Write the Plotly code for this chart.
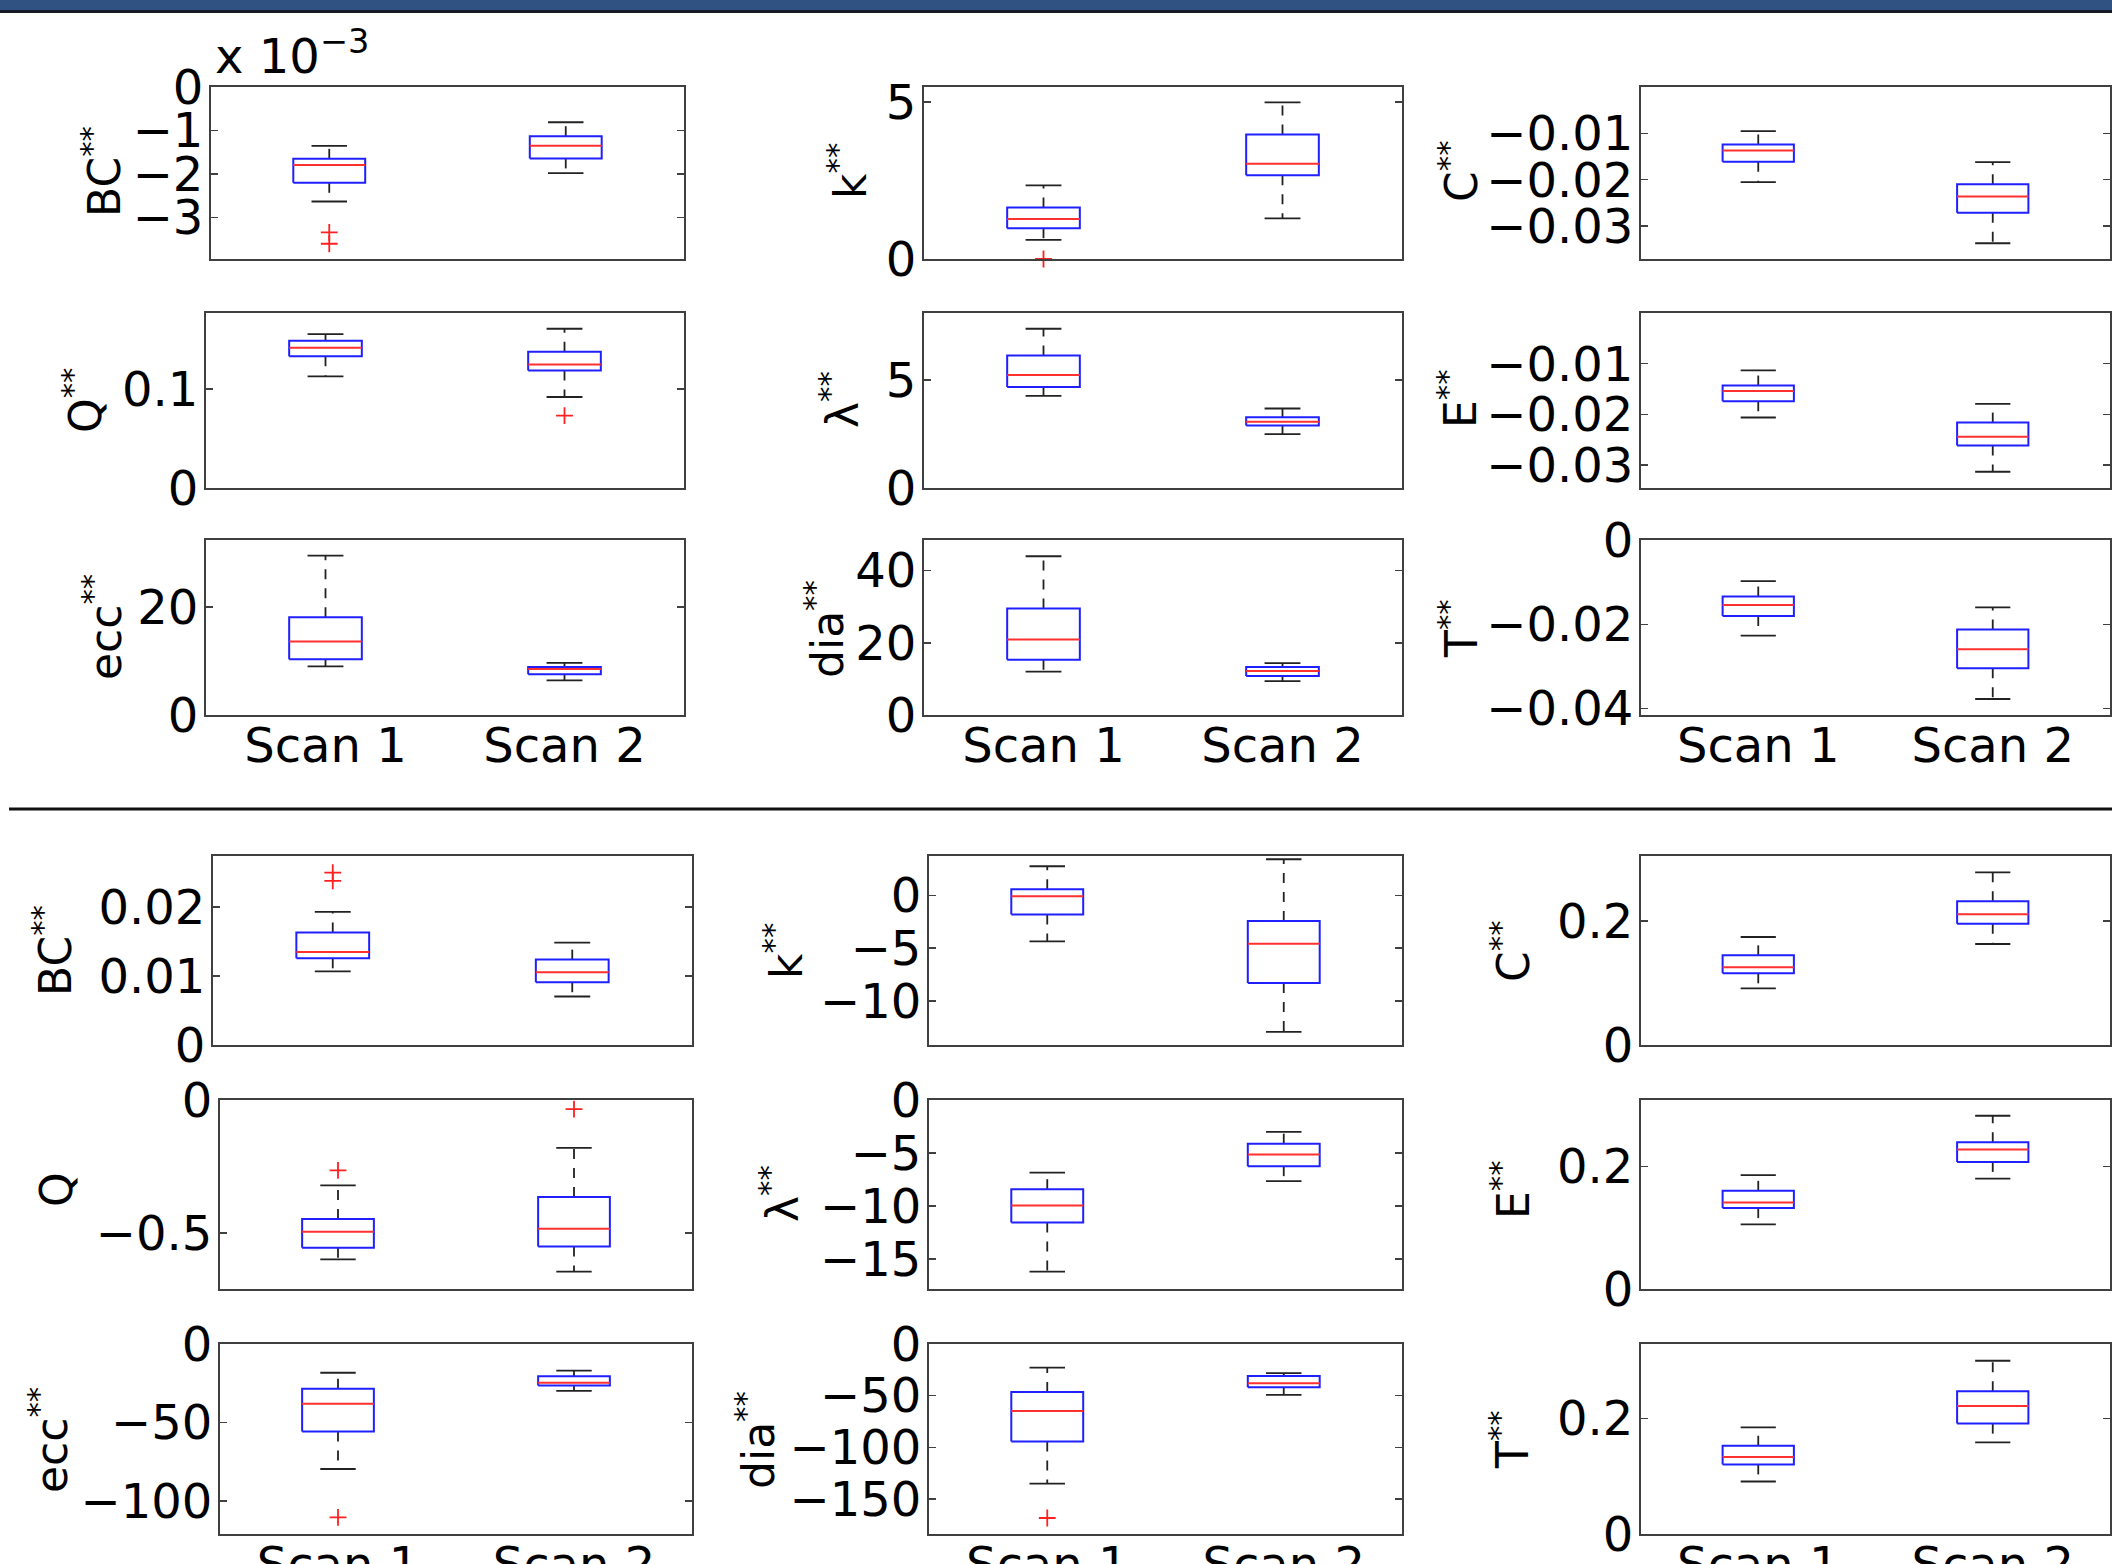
import plotly.graph_objects as go

W, H = 2112, 1564
SCANS = ["Scan 1", "Scan 2"]

# ---------------- DATA ----------------
# panel order in each section (row-major): BC, k, C, Q, lambda, E, ecc, dia, T
top_names = ["BC<sup>**</sup>", "k<sup>**</sup>", "C<sup>**</sup>",
             "Q<sup>**</sup>", "λ<sup>**</sup>", "E<sup>**</sup>",
             "ecc<sup>**</sup>", "dia<sup>**</sup>", "T<sup>**</sup>"]
bot_names = ["BC<sup>**</sup>", "k<sup>**</sup>", "C<sup>**</sup>",
             "Q", "λ<sup>**</sup>", "E<sup>**</sup>",
             "ecc<sup>**</sup>", "dia<sup>**</sup>", "T<sup>**</sup>"]

# five-number summaries, [Scan 1, Scan 2]
top_lower = [[-2.63e-3, -1.98e-3], [0.61, 1.29], [-0.0205, -0.0337],
             [0.1128, 0.0919], [4.26, 2.49], [-0.0206, -0.0313],
             [9.0, 6.4], [12.0, 9.4], [-0.0227, -0.0377]]
top_q1 = [[-2.20e-3, -1.64e-3], [0.98, 2.66], [-0.0161, -0.0271],
          [0.1331, 0.1186], [4.67, 2.89], [-0.0174, -0.0261],
          [10.3, 7.55], [15.3, 10.8], [-0.0180, -0.0304]]
top_median = [[-1.79e-3, -1.35e-3], [1.27, 3.03], [-0.0137, -0.0236],
              [0.1416, 0.1247], [5.23, 3.07], [-0.0154, -0.0244],
              [13.6, 8.5], [20.9, 12.2], [-0.0154, -0.0259]]
top_q3 = [[-1.65e-3, -1.13e-3], [1.64, 3.96], [-0.0124, -0.0210],
          [0.1486, 0.1375], [6.13, 3.28], [-0.0143, -0.0216],
          [18.1, 8.9], [29.5, 13.3], [-0.0134, -0.0212]]
top_upper = [[-1.35e-3, -0.81e-3], [2.34, 4.98], [-0.0095, -0.0162],
             [0.1554, 0.1608], [7.37, 3.68], [-0.0113, -0.0179],
             [29.5, 9.66], [44.0, 14.4], [-0.00976, -0.0160]]
top_outliers = [[[-3.34e-3, -3.60e-3], []], [[0.0], []], [[], []],
                [[], [0.073]], [[], []], [[], []],
                [[], []], [[], []], [[], []]]

bot_lower = [[0.01067, 0.00702], [-4.36, -12.93], [0.0914, 0.1629],
             [-0.599, -0.645], [-16.2, -7.65], [0.1054, 0.1804],
             [-79.6, -29.8], [-135.2, -49.3], [0.0910, 0.1588]]
bot_q1 = [[0.01255, 0.00909], [-1.82, -8.31], [0.1156, 0.1957],
          [-0.555, -0.550], [-11.55, -6.24], [0.1321, 0.2076],
          [-55.7, -26.4], [-94.5, -42.0], [0.1206, 0.1913]]
bot_median = [[0.01346, 0.01053], [-0.09, -4.58], [0.1253, 0.2108],
              [-0.495, -0.484], [-9.96, -5.13], [0.1413, 0.2277],
              [-38.1, -24.7], [-64.8, -37.9], [0.1333, 0.2220]]
bot_q3 = [[0.0163, 0.01236], [0.58, -2.44], [0.1446, 0.2317],
          [-0.4475, -0.364], [-8.41, -4.12], [0.1603, 0.2397],
          [-28.5, -20.6], [-46.6, -31.1], [0.1530, 0.2475]]
bot_upper = [[0.01928, 0.01481], [2.76, 3.42], [0.1742, 0.2785],
             [-0.321, -0.18], [-6.86, -3.01], [0.1859, 0.283],
             [-18.3, -17.0], [-22.8, -28.3], [0.1849, 0.3003]]
bot_outliers = [[[0.02495, 0.02375], []], [[], []], [[], []],
                [[-0.264], [-0.034]], [[], []], [[], []],
                [[-110.4], []], [[-168.5], []], [[], []]]

# y axis ranges and ticks
top_yrange = [[-3.95e-3, 0], [0, 5.47], [-0.0371, 0], [0, 0.1767], [0, 8.1],
              [-0.0345, 0], [0, 32.4], [0, 48.5], [-0.0415, 0]]
top_tickvals = [[-3e-3, -2e-3, -1e-3, 0], [0, 5], [-0.03, -0.02, -0.01],
                [0, 0.1], [0, 5], [-0.03, -0.02, -0.01],
                [0, 20], [0, 20, 40], [-0.04, -0.02, 0]]
top_ticktext = [["−3", "−2", "−1", "0"], ["0", "5"], ["−0.03", "−0.02", "−0.01"],
                ["0", "0.1"], ["0", "5"], ["−0.03", "−0.02", "−0.01"],
                ["0", "20"], ["0", "20", "40"], ["−0.04", "−0.02", "0"]]
bot_yrange = [[0, 0.02736], [-14.18, 3.73], [0, 0.3048], [-0.71, 0], [-17.83, 0],
              [0, 0.3087], [-121, 0], [-184, 0], [0, 0.3293]]
bot_tickvals = [[0, 0.01, 0.02], [-10, -5, 0], [0, 0.2], [-0.5, 0],
                [-15, -10, -5, 0], [0, 0.2], [-100, -50, 0],
                [-150, -100, -50, 0], [0, 0.2]]
bot_ticktext = [["0", "0.01", "0.02"], ["−10", "−5", "0"], ["0", "0.2"],
                ["−0.5", "0"], ["−15", "−10", "−5", "0"], ["0", "0.2"],
                ["−100", "−50", "0"], ["−150", "−100", "−50", "0"], ["0", "0.2"]]
exponent_label = "x 10<sup>−3</sup>"

# ---------------- LAYOUT GEOMETRY (pixels) ----------------
TOP_ROWS = [(87, 259), (313, 488), (540, 715)]
BOT_ROWS = [(856, 1045), (1100, 1289), (1344, 1534)]
TOP_COLS = [[(211, 684), (924, 1402), (1641, 2110)],
            [(206, 684), (924, 1402), (1641, 2110)],
            [(206, 684), (924, 1402), (1641, 2110)]]
BOT_COLS = [[(213, 692), (929, 1402), (1641, 2110)],
            [(220, 692), (929, 1402), (1641, 2110)],
            [(220, 692), (929, 1402), (1641, 2110)]]
TOP_TITLE_POS = [(101, 172), (847, 171), (1458, 171),
                 (82, 401), (840, 400), (1458, 399),
                 (102, 627), (824, 629), (1458, 629)]
BOT_TITLE_POS = [(52, 951), (783, 951), (1510, 951),
                 (56, 1190), (779, 1194), (1510, 1190),
                 (48, 1440), (755, 1440), (1509, 1440)]

FONT = "DejaVu Sans"
TICK_SIZE = 48
TITLE_SIZE = 44
FRAME = "#404040"
BOX_HW = 0.152
CAP_HW = 0.075


def px(x):
    return x / W


def py(y):
    return 1 - y / H


fig = go.Figure()
layout = dict(
    width=W, height=H, margin=dict(l=0, r=0, t=0, b=0, pad=0, autoexpand=False),
    paper_bgcolor="white", plot_bgcolor="white", showlegend=False,
    hovermode=False, font=dict(family=FONT, color="black", size=TICK_SIZE),
)
annotations = []

sections = [
    (TOP_ROWS, TOP_COLS, TOP_TITLE_POS, top_names, top_lower, top_q1, top_median,
     top_q3, top_upper, top_outliers, top_yrange, top_tickvals, top_ticktext),
    (BOT_ROWS, BOT_COLS, BOT_TITLE_POS, bot_names, bot_lower, bot_q1, bot_median,
     bot_q3, bot_upper, bot_outliers, bot_yrange, bot_tickvals, bot_ticktext),
]

n = 0
for (rows, cols, tpos, names, lo, q1, med, q3, hi, outl, yr, tv, tt) in sections:
    for p in range(9):
        r, c = divmod(p, 3)
        n += 1
        xid = "x" if n == 1 else f"x{n}"
        yid = "y" if n == 1 else f"y{n}"
        xname = "xaxis" if n == 1 else f"xaxis{n}"
        yname = "yaxis" if n == 1 else f"yaxis{n}"
        top, bot = rows[r]
        left, right = cols[r][c]

        layout[xname] = dict(
            domain=[px(left), min(px(right), 1.0)], anchor=yid,
            range=[0.5, 2.5], tickvals=[1, 2], ticktext=SCANS,
            showticklabels=(r == 2), ticks="", showgrid=False, zeroline=False,
            showline=True, linecolor=FRAME, linewidth=2, mirror=True,
            ticklabelstandoff=-13,
            tickfont=dict(family=FONT, size=TICK_SIZE, color="black"),
            automargin=False, fixedrange=True,
        )
        layout[yname] = dict(
            domain=[py(bot), py(top)], anchor=xid,
            range=yr[p], tickvals=tv[p], ticktext=tt[p],
            ticks="inside", ticklen=7, tickwidth=1.5, tickcolor=FRAME,
            showgrid=False, zeroline=False, showline=True, linecolor=FRAME,
            linewidth=2, mirror="ticks", ticklabelstandoff=-4,
            tickfont=dict(family=FONT, size=TICK_SIZE, color="black"),
            automargin=False, fixedrange=True,
        )

        bx, by, mx, my, wx, wy, cx, cy, ox, oy = ([] for _ in range(10))
        for i in range(2):
            x = i + 1
            bx += [x - BOX_HW, x + BOX_HW, x + BOX_HW, x - BOX_HW, x - BOX_HW, None]
            by += [q1[p][i], q1[p][i], q3[p][i], q3[p][i], q1[p][i], None]
            mx += [x - BOX_HW, x + BOX_HW, None]
            my += [med[p][i], med[p][i], None]
            wx += [x, x, None, x, x, None]
            wy += [q3[p][i], hi[p][i], None, q1[p][i], lo[p][i], None]
            cx += [x - CAP_HW, x + CAP_HW, None, x - CAP_HW, x + CAP_HW, None]
            cy += [hi[p][i], hi[p][i], None, lo[p][i], lo[p][i], None]
            for v in outl[p][i]:
                ox.append(x)
                oy.append(v)

        fig.add_trace(go.Scatter(x=wx, y=wy, mode="lines", xaxis=xid, yaxis=yid,
                                 line=dict(color="#222222", width=1.8, dash="10px,9px")))
        fig.add_trace(go.Scatter(x=cx, y=cy, mode="lines", xaxis=xid, yaxis=yid,
                                 line=dict(color="#222222", width=1.8)))
        fig.add_trace(go.Scatter(x=bx, y=by, mode="lines", xaxis=xid, yaxis=yid,
                                 line=dict(color="#2020ff", width=2)))
        fig.add_trace(go.Scatter(x=mx, y=my, mode="lines", xaxis=xid, yaxis=yid,
                                 line=dict(color="#ff3030", width=2)))
        if ox:
            fig.add_trace(go.Scatter(x=ox, y=oy, mode="markers", xaxis=xid, yaxis=yid,
                                     cliponaxis=False,
                                     marker=dict(symbol="cross-thin", size=12,
                                                 line=dict(color="#ff2020", width=1.8))))

        tx, ty = tpos[p]
        annotations.append(dict(
            text=names[p], x=px(tx), y=py(ty), xref="paper", yref="paper",
            xanchor="center", yanchor="middle", textangle=-90, showarrow=False,
            font=dict(family=FONT, size=TITLE_SIZE, color="black"),
        ))

# exponent label of the first panel
annotations.append(dict(
    text=exponent_label, x=px(213), y=py(86), xref="paper", yref="paper",
    xanchor="left", yanchor="bottom", showarrow=False,
    font=dict(family=FONT, size=TICK_SIZE, color="black"),
))

shapes = [
    dict(type="rect", xref="paper", yref="paper", x0=0, x1=1, y0=py(10), y1=1,
         fillcolor="#2f5282", line=dict(width=0), layer="above"),
    dict(type="rect", xref="paper", yref="paper", x0=0, x1=1, y0=py(13), y1=py(10),
         fillcolor="#151a26", line=dict(width=0), layer="above"),
    dict(type="line", xref="paper", yref="paper", x0=px(9), x1=1, y0=py(809), y1=py(809),
         line=dict(color="#111111", width=3)),
]

layout["annotations"] = annotations
layout["shapes"] = shapes
fig.update_layout(**layout)

fig.write_html(
    "out.html",
    config={"displayModeBar": False, "staticPlot": True},
    post_script="document.body.style.margin='0';document.body.style.overflow='hidden';",
)
